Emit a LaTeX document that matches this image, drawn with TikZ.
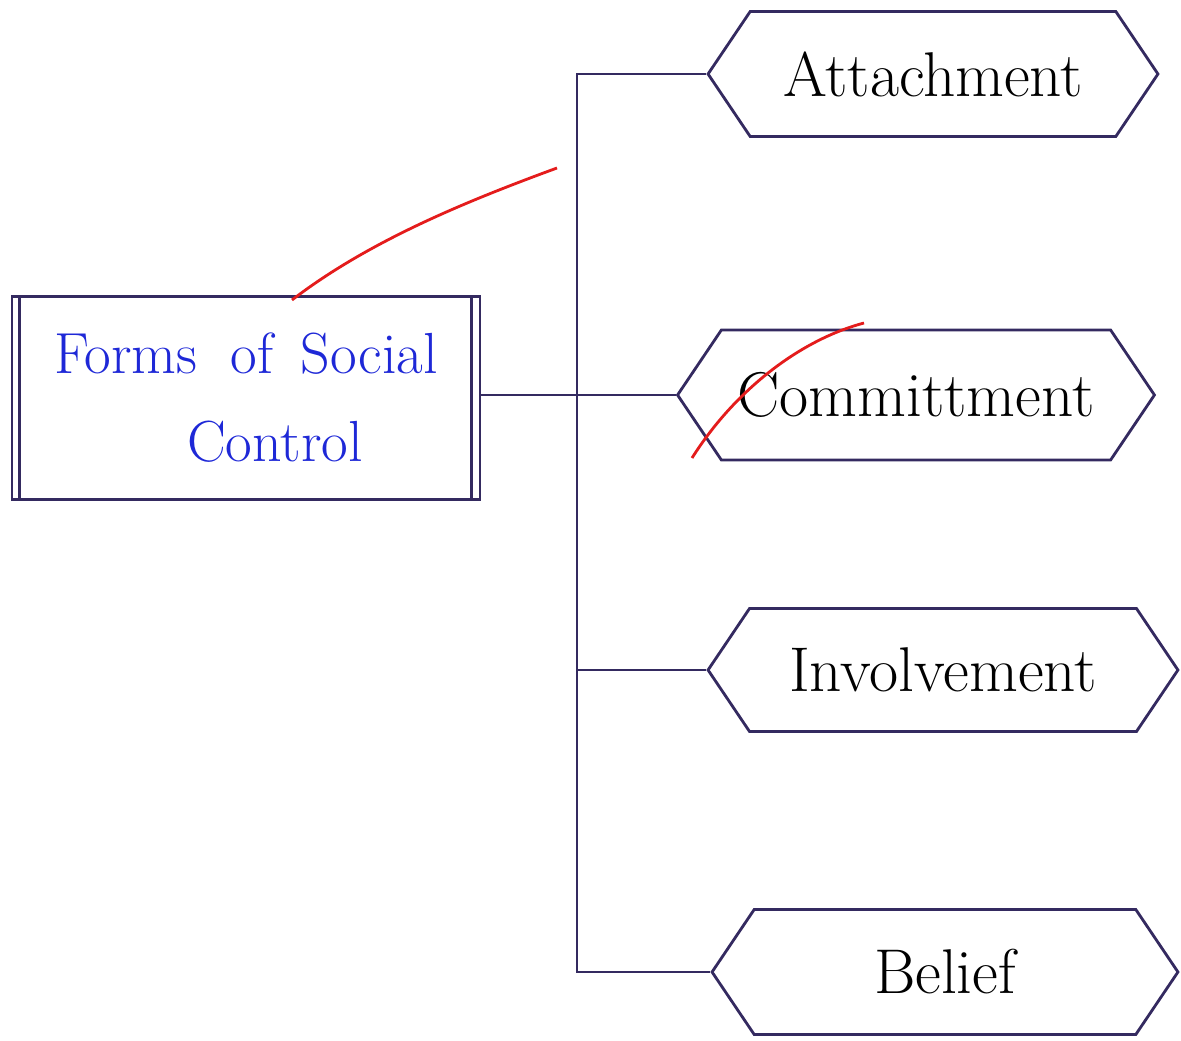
\documentclass[tikz,border=0pt]{standalone}
\usepackage{tikz}
\usetikzlibrary{shapes.symbols}

\definecolor{ink}{RGB}{52,42,96}
\definecolor{pen}{RGB}{30,40,215}
\definecolor{mark}{RGB}{228,28,28}

\begin{document}
\begin{tikzpicture}[x=0.02cm,y=-0.02cm,line width=1.5pt,draw=ink,
  bond/.style={signal,signal to=west and east,signal pointer angle=112,draw=ink,line width=1.6pt,fill=white,minimum height=2.5cm,inner sep=0pt,font=\fontsize{36}{42}\selectfont},
  rmark/.style={draw=mark,line width=1.6pt}]
\useasboundingbox (0,0) rectangle (1181,1041);
\node[draw=ink,line width=1.5pt,minimum width=9.36cm,minimum height=4.06cm,align=center,text=pen,font=\fontsize{33}{50}\selectfont] (forms) at (246,398) {Forms\; of\, Social\\\quad Control};
\draw ([xshift=0.18cm]forms.north west) -- ([xshift=0.18cm]forms.south west);
\draw ([xshift=-0.2cm]forms.north east) -- ([xshift=-0.2cm]forms.south east);
\node[bond,minimum width=9.0cm] (attach) at (933,74) {Attachment};
\node[bond,minimum width=9.54cm,minimum height=2.6cm] (commit) at (916,395) {Committment};
\node[bond,minimum width=9.4cm,minimum height=2.46cm] (involve) at (943,670) {Involvement};
\node[bond,minimum width=9.32cm] (belief) at (945,972) {Belief};
\coordinate (spine) at (577,395);
\draw (forms.east |- commit.west) -- (commit.west);
\draw (attach.west) -- (attach.west -| spine) -- (belief.west -| spine) -- (belief.west);
\draw (involve.west) -- (involve.west -| spine);
% red marks
\draw[rmark] (292,300) .. controls (370,240) and (470,200) .. (557,168);
\draw[rmark] (692,458) .. controls (735,390) and (800,340) .. (864,323);
\end{tikzpicture}
\end{document}
